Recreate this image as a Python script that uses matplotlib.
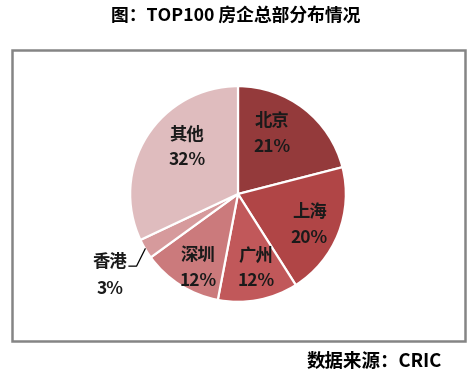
import numpy as np
import matplotlib.pyplot as plt
from matplotlib.patches import Rectangle

plt.rcParams['font.family'] = ['Noto Sans CJK SC', 'DejaVu Sans']

# data
cities = ['北京', '上海', '广州', '深圳', '香港', '其他']
shares = [21, 20, 12, 12, 3, 32]
colors = ['#943a3b', '#b04546', '#c1585a', '#cb7a7c', '#d69a9c', '#dfbcbe']
# label distance from centre (fraction of radius) and angle nudges, Excel-like
label_r = [0.64, 0.72, 0.71, 0.78, None, 0.64]
label_da = [8, -2, 3, 4, 0, -10]

fig = plt.figure(figsize=(4.77, 3.8), dpi=100)

# outer frame
fig.patches.append(Rectangle((12 / 477, 1 - 341 / 380), 453 / 477, 291 / 380,
                             transform=fig.transFigure, fill=False,
                             edgecolor='#858585', linewidth=1.8))

ax = fig.add_axes([(238 - 110) / 477, (380 - 194 - 110) / 380, 220 / 477, 220 / 380])
wedges, _ = ax.pie(shares, colors=colors, startangle=90, counterclock=False,
                   wedgeprops=dict(edgecolor='white', linewidth=1.6))
ax.set_xlim(-1.02, 1.02)
ax.set_ylim(-1.02, 1.02)
ax.set_aspect('equal')
ax.axis('off')

fs = 12.5
for w, name, val, r, da in zip(wedges, cities, shares, label_r, label_da):
    mid = np.deg2rad((w.theta1 + w.theta2) / 2 + da)
    if r is None:
        # leader label for the small slice
        mid0 = np.deg2rad((w.theta1 + w.theta2) / 2)
        x0, y0 = np.cos(mid0), np.sin(mid0)
        ax.plot([x0, x0 - 0.08, x0 - 0.15], [y0, y0 - 0.16, y0 - 0.16],
                color='black', lw=0.9, clip_on=False)
        ax.text(x0 - 0.33, y0 - 0.12, name, ha='center', va='center',
                fontsize=fs, fontweight='bold', color='#1a1a1a')
        ax.text(x0 - 0.33, y0 - 0.37, f'{val}%', ha='center', va='center',
                fontsize=fs, fontweight='bold', color='#1a1a1a')
        continue
    x, y = r * np.cos(mid), r * np.sin(mid)
    ax.text(x, y + 0.12, name, ha='center', va='center',
            fontsize=fs, fontweight='bold', color='#1a1a1a')
    ax.text(x, y - 0.12, f'{val}%', ha='center', va='center',
            fontsize=fs, fontweight='bold', color='#1a1a1a')

fig.text(236 / 477, 1 - 16 / 380, '图：TOP100 房企总部分布情况', ha='center', va='center',
         fontsize=12.8, fontweight='bold')
fig.text(374 / 477, 1 - 361 / 380, '数据来源：CRIC', ha='center', va='center',
         fontsize=13.3, fontweight='bold')

fig.savefig('out.png', dpi=100)
